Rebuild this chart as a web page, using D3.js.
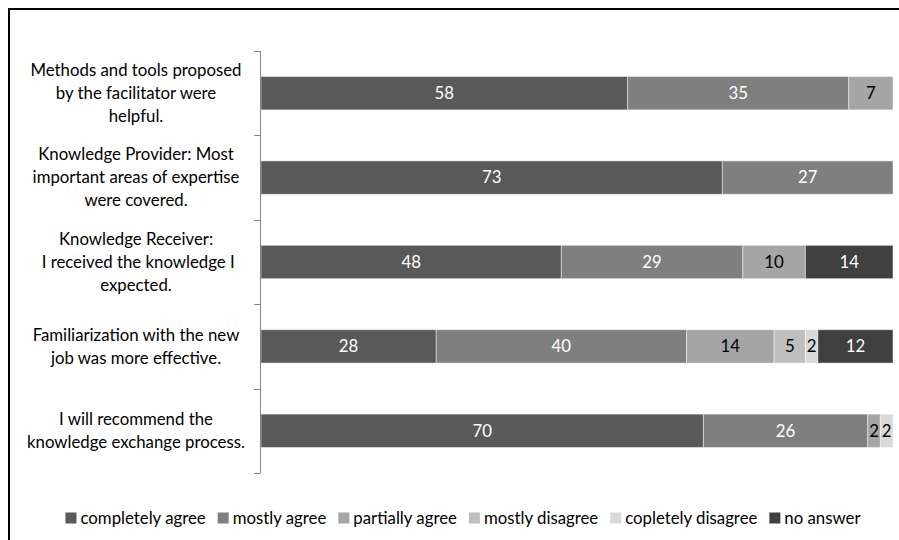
<!DOCTYPE html>
<html lang="en">
<head>
    <meta charset="UTF-8">
    <title>Knowledge exchange evaluation</title>
    <script src="https://d3js.org/d3.v7.min.js"></script>
    <style>
        html, body { margin: 0; padding: 0; background: #fff; overflow: hidden; }
        svg { display: block; }
        text { font-family: Lato, "Open Sans", sans-serif; }
    </style>
</head>
<body>
    <svg width="899" height="540"></svg>

    <script>
        // questions (top to bottom), each split into lines as in the original
        const questions = [
            ["Methods and tools proposed", "by the facilitator were", "helpful."],
            ["Knowledge Provider: Most", "important areas of expertise", "were covered."],
            ["Knowledge Receiver:", " I received the knowledge I", "expected."],
            ["Familiarization with the new", "job was more effective."],
            ["I will recommend the", "knowledge exchange process."]
        ];

        const answers = ["completely agree", "mostly agree", "partially agree",
                         "mostly disagree", "copletely disagree", "no answer"];

        // one array per answer, values per question
        const completelyAgree    = [58, 73, 48, 28, 70];
        const mostlyAgree        = [35, 27, 29, 40, 26];
        const partiallyAgree     = [7, 0, 10, 14, 2];
        const mostlyDisagree     = [0, 0, 0, 5, 0];
        const completelyDisagree = [0, 0, 0, 2, 2];
        const noAnswer           = [0, 0, 14, 12, 0];

        const colors = ["#595959", "#7f7f7f", "#a5a5a5", "#bfbfbf", "#d9d9d9", "#404040"];
        const labelColors = ["#fff", "#fff", "#000", "#000", "#000", "#fff"];

        const seriesValues = [completelyAgree, mostlyAgree, partiallyAgree,
                              mostlyDisagree, completelyDisagree, noAnswer];

        const rows = questions.map((q, i) => {
            const row = { idx: i };
            answers.forEach((a, j) => row[a] = seriesValues[j][i]);
            return row;
        });

        // 100% stacked
        const stacked = d3.stack().keys(answers)
            .offset(d3.stackOffsetExpand)(rows);

        const svg = d3.select("svg");
        const margin = { left: 261, right: 6, top: 51, bottom: 67 };
        const width = 899, height = 540;
        const fs = 16.8;

        // chart frame (only top and left edges fall inside the picture)
        svg.append("rect")
            .attr("x", 9).attr("y", 9)
            .attr("width", 960).attr("height", 600)
            .attr("fill", "none").attr("stroke", "#000").attr("stroke-width", 2);

        const x = d3.scaleLinear().domain([0, 1])
            .range([margin.left, width - margin.right]);
        const y = d3.scaleBand().domain(d3.range(questions.length))
            .range([margin.top, height - margin.bottom])
            .paddingInner(0.605).paddingOuter(0.3025);

        const layers = svg.append("g").selectAll("g")
            .data(stacked).join("g")
            .attr("fill", (d, i) => colors[i]);

        layers.selectAll("rect")
            .data(d => d.filter(s => s[1] > s[0]))
            .join("rect")
            .attr("x", d => x(d[0]))
            .attr("y", d => y(d.data.idx))
            .attr("width", d => x(d[1]) - x(d[0]))
            .attr("height", y.bandwidth())
            .attr("stroke", "rgba(255,255,255,0.45)")
            .attr("stroke-width", 1);

        // value labels
        stacked.forEach((layer, j) => {
            svg.append("g").selectAll("text")
                .data(layer.filter(s => s[1] > s[0]))
                .join("text")
                .attr("x", d => (x(d[0]) + x(d[1])) / 2)
                .attr("y", d => y(d.data.idx) + y.bandwidth() / 2)
                .attr("dy", "0.35em")
                .attr("text-anchor", "middle")
                .attr("font-size", fs)
                .attr("fill", labelColors[j])
                .text(d => d.data[answers[j]]);
        });

        // category axis: line + ticks on band boundaries
        const axis = svg.append("g").attr("stroke", "#868686").attr("stroke-width", 1);
        const y0 = margin.top, y1 = height - margin.bottom;
        axis.append("line")
            .attr("x1", margin.left - 0.5).attr("x2", margin.left - 0.5)
            .attr("y1", y0).attr("y2", y1);
        const step = y.step();
        axis.selectAll(".tick")
            .data(d3.range(questions.length + 1))
            .join("line")
            .attr("x1", margin.left - 7).attr("x2", margin.left - 0.5)
            .attr("y1", i => Math.round(y0 + i * step) + 0.5)
            .attr("y2", i => Math.round(y0 + i * step) + 0.5);

        // category labels
        const lineH = 23;
        svg.append("g").selectAll("text")
            .data(questions)
            .join("text")
            .attr("text-anchor", "middle")
            .attr("font-size", fs)
            .attr("fill", "#000")
            .attr("transform", (q, i) => {
                const cy = y(i) + y.bandwidth() / 2 - (q.length - 1) * lineH / 2;
                return `translate(136,${cy})`;
            })
            .selectAll("tspan")
            .data(q => q)
            .join("tspan")
            .attr("x", 0)
            .attr("y", (d, k) => k * lineH)
            .attr("dy", "0.35em")
            .style("white-space", "pre")
            .text(d => d);

        // legend, centred under the plot
        const legend = svg.append("g");
        const items = legend.selectAll("g").data(answers).join("g");
        items.append("rect")
            .attr("width", 11).attr("height", 11)
            .attr("y", -5.5)
            .attr("fill", (d, i) => colors[i]);
        items.append("text")
            .attr("x", 15).attr("dy", "0.35em")
            .attr("font-size", fs)
            .attr("fill", "#000")
            .text(d => d);

        let cursor = 0;
        items.each(function () {
            const w = 15 + this.querySelector("text").getComputedTextLength();
            d3.select(this).attr("transform", `translate(${cursor},0)`);
            cursor += w + 12;
        });
        const legendW = cursor - 12;
        legend.attr("transform", `translate(${463 - legendW / 2},518)`);
    </script>
</body>
</html>
